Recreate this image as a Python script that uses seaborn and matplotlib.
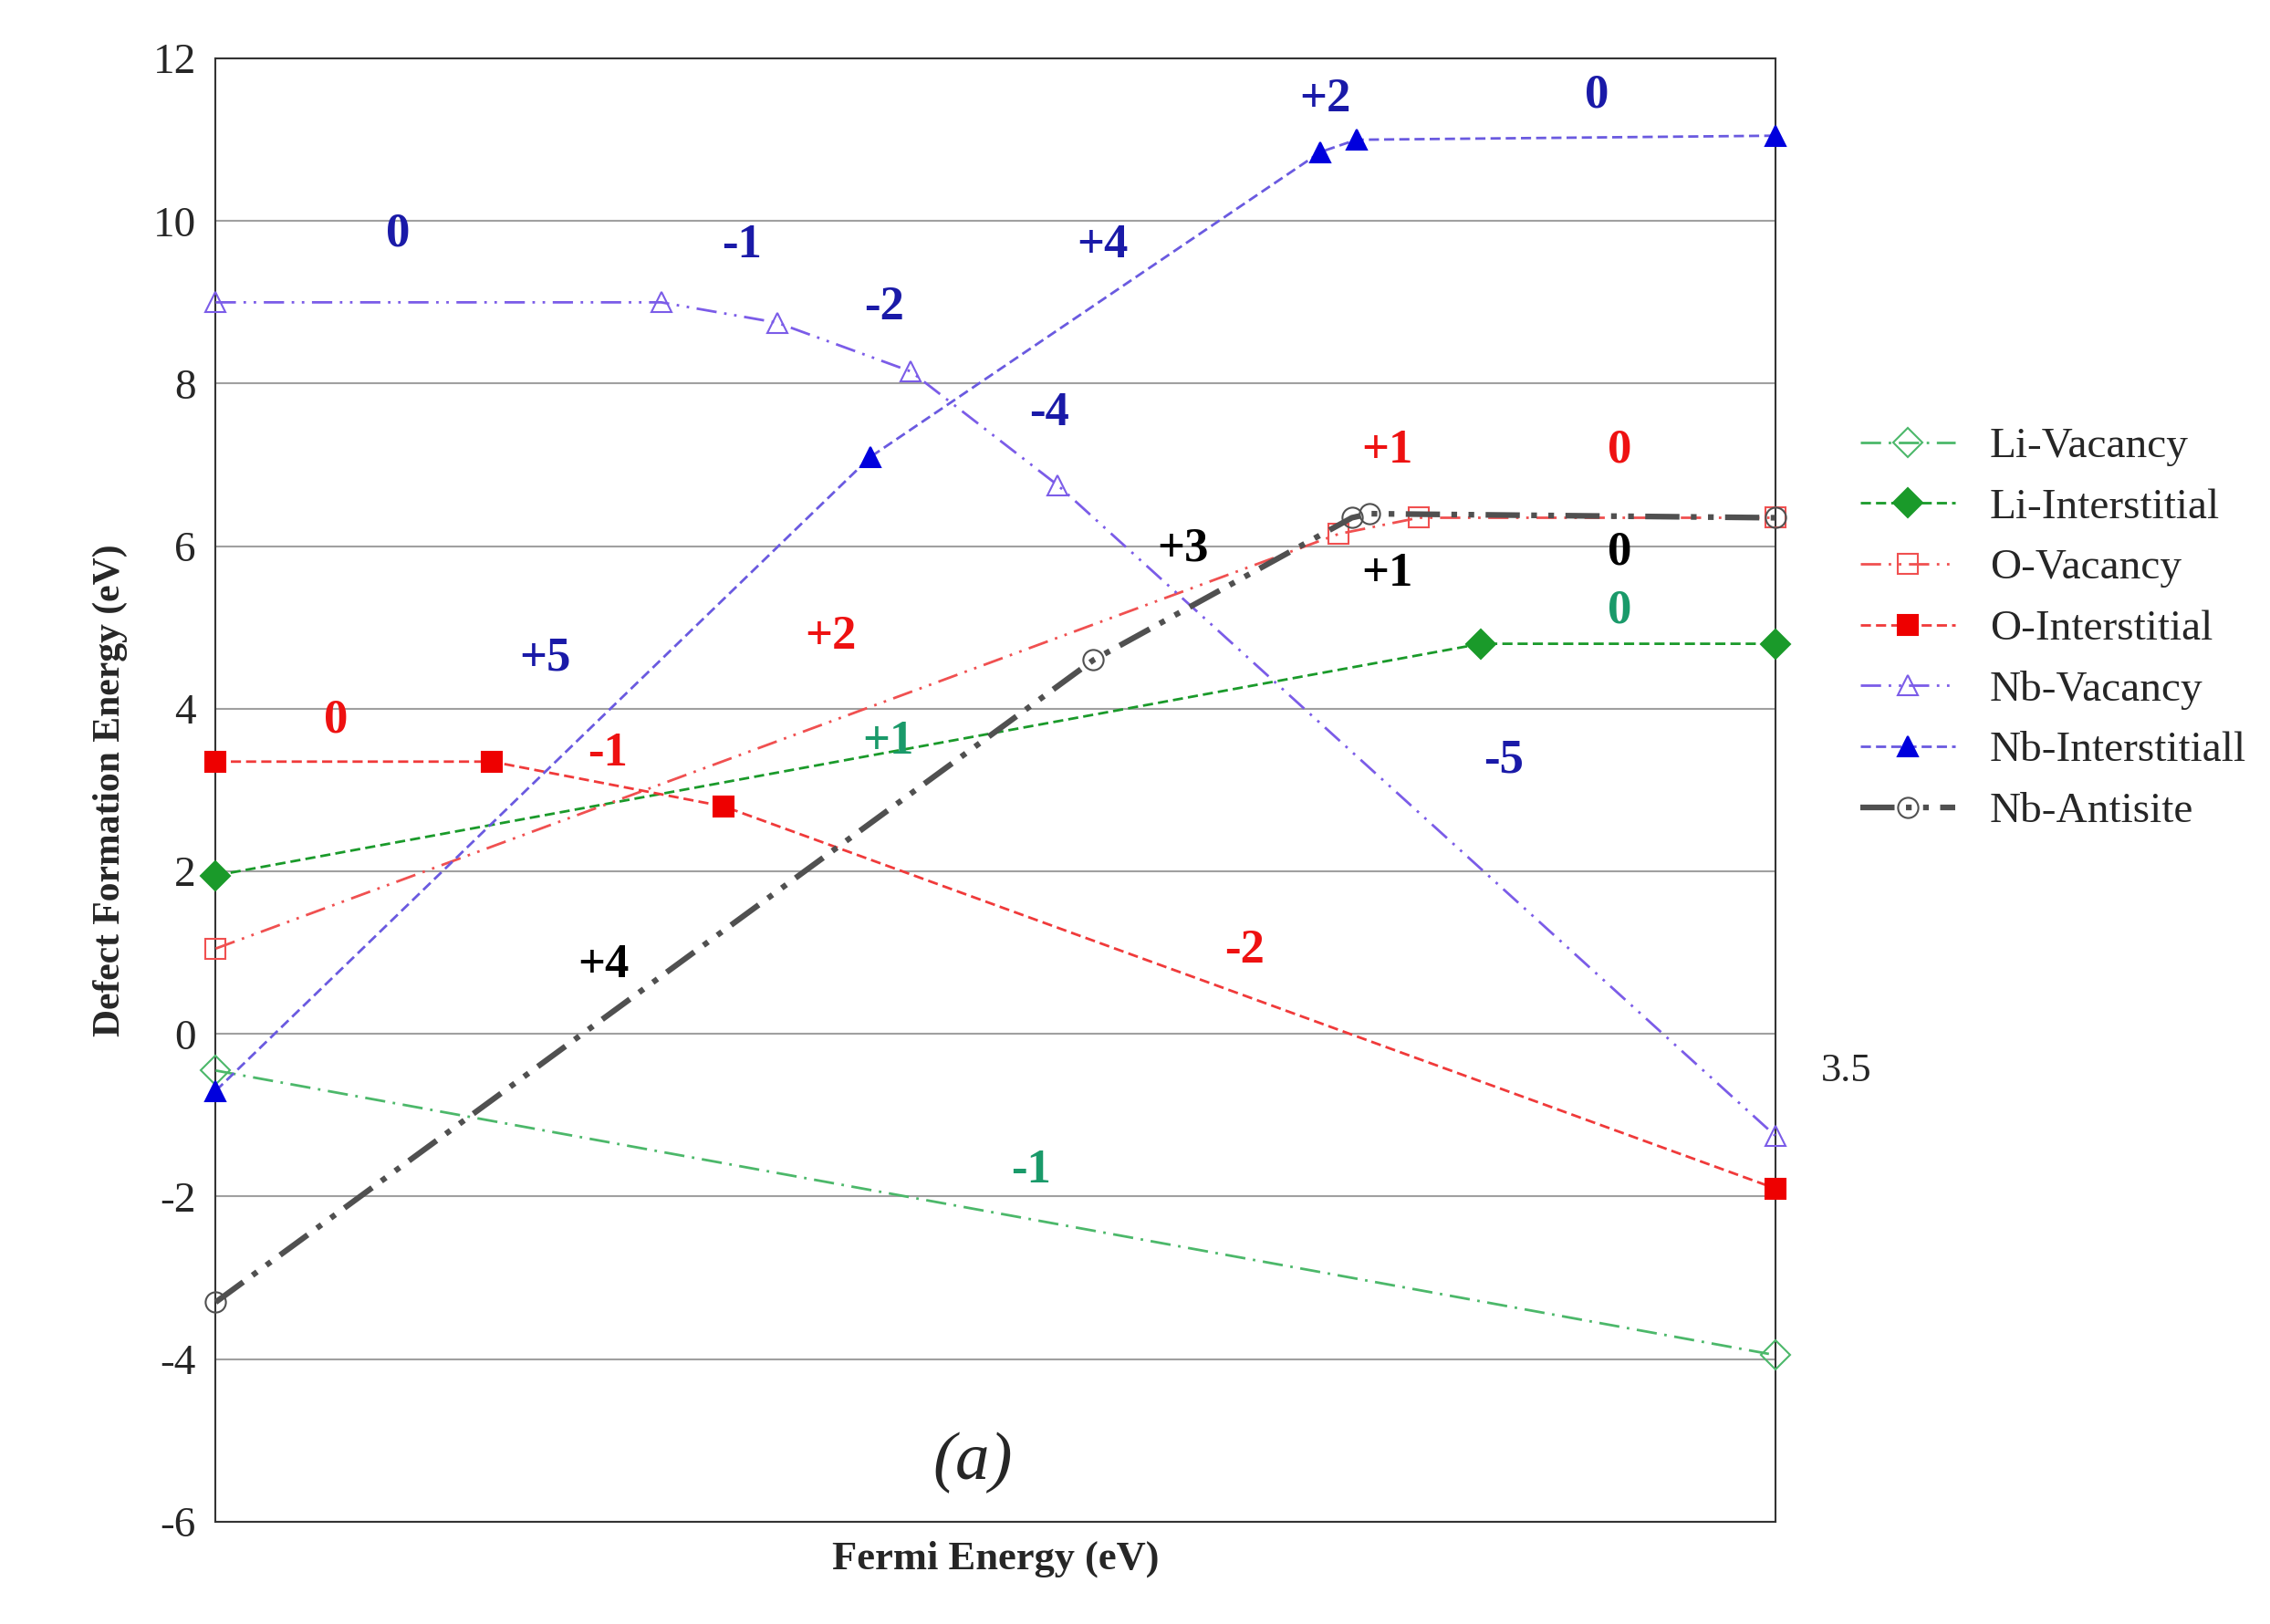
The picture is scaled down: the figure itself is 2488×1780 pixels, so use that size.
import matplotlib
matplotlib.use("Agg")
import matplotlib.pyplot as plt
import seaborn as sns
import pandas as pd

sns.set_style("white")
plt.rcParams['font.family'] = ['Liberation Serif', 'DejaVu Serif']
plt.rcParams['axes.unicode_minus'] = False

li_vac_x = [0, 3.5]; li_vac_y = [-0.45, -3.95]
li_int_x = [0, 2.84, 3.5]; li_int_y = [1.95, 4.8, 4.8]
o_vac_x = [0, 2.52, 2.70, 3.5]; o_vac_y = [1.05, 6.15, 6.35, 6.35]
o_int_x = [0, 0.62, 1.14, 3.5]; o_int_y = [3.35, 3.35, 2.8, -1.9]
nb_vac_x = [0, 1.0, 1.26, 1.56, 1.89, 3.5]; nb_vac_y = [9.0, 9.0, 8.75, 8.15, 6.75, -1.25]
nb_int_x = [0, 1.47, 2.48, 2.56, 3.5]; nb_int_y = [-0.7, 7.1, 10.85, 11.0, 11.05]
nb_anti_x = [0, 1.97, 2.55, 2.59, 3.5]; nb_anti_y = [-3.3, 4.6, 6.35, 6.4, 6.35]

labels_txt = ["0", "-1", "-2", "-4", "-5", "+5", "+4", "+2", "0",
              "0", "-1", "-2", "+2", "+1", "0",
              "+1", "-1", "0",
              "+4", "+3", "+1", "0"]
labels_x = [0.41, 1.18, 1.50, 1.87, 2.89, 0.74, 1.99, 2.49, 3.10,
            0.27, 0.88, 2.31, 1.38, 2.63, 3.15,
            1.51, 1.83, 3.15,
            0.87, 2.17, 2.63, 3.15]
labels_y = [9.84, 9.70, 8.94, 7.64, 3.36, 4.62, 9.70, 11.5, 11.55,
            3.86, 3.45, 1.02, 4.89, 7.18, 7.18,
            3.6, -1.68, 5.2,
            0.84, 5.97, 5.66, 5.92]
labels_c = ["#1a1aa8"] * 9 + ["#ee1111"] * 6 + ["#1a9a6a"] * 3 + ["black"] * 4

fig = plt.figure(figsize=(24.88, 17.8), dpi=100)
ax = fig.add_axes([0.095, 0.063, 0.687, 0.901])

series = [
    ("Li-Vacancy", li_vac_x, li_vac_y, "#4cb86a", (0, (8, 3, 1, 3)), "D", "none", 2),
    ("Li-Interstitial", li_int_x, li_int_y, "#1a9a2a", (0, (4, 2)), "D", "#1a9a2a", 2),
    ("O-Vacancy", o_vac_x, o_vac_y, "#f05050", (0, (8, 3, 1, 3, 1, 3)), "s", "none", 2),
    ("O-Interstitial", o_int_x, o_int_y, "#f03a3a", (0, (4, 2)), "s", "#ee0000", 2),
    ("Nb-Vacancy", nb_vac_x, nb_vac_y, "#7b5ce8", (0, (8, 3, 1, 3, 1, 3)), "^", "none", 2),
    ("Nb-Interstitiall", nb_int_x, nb_int_y, "#6a5ae0", (0, (4, 2)), "^", "#0000dd", 2),
    ("Nb-Antisite", nb_anti_x, nb_anti_y, "#505050", (0, (6, 2, 1, 2, 1, 2)), "o", "none", 4.5),
]
for name, xs, ys, col, ls, mk, mfc, lw in series:
    df = pd.DataFrame({"x": xs, "y": ys})
    mec = col if mfc == "none" else mfc
    sns.lineplot(data=df, x="x", y="y", ax=ax, sort=False, color=col, label=name,
                 linewidth=lw, linestyle=ls, marker=mk, markersize=16,
                 markerfacecolor=mfc, markeredgecolor=mec, markeredgewidth=1.5,
                 clip_on=False, zorder=3)

for t, x, y, c in zip(labels_txt, labels_x, labels_y, labels_c):
    ax.text(x, y, t, color=c, fontsize=38, fontweight="bold", ha="center", va="center")

ax.text(1.70, -5.28, "(a)", fontsize=54, style="italic", ha="center", va="center")
ax.text(3.66, -0.46, "3.5", fontsize=32, ha="center", va="center")

ax.set_xlim(0, 3.5)
ax.set_ylim(-6, 12)
ax.set_yticks(range(-6, 13, 2))
ax.set_xticks([])
ax.yaxis.grid(True, color="#a0a0a0", linewidth=1.5)
ax.tick_params(axis="y", labelsize=34, pad=12)
ax.set_xlabel("Fermi Energy (eV)", fontsize=32, fontweight="bold", labelpad=15)
ax.set_ylabel("Defect Formation Energy (eV)", fontsize=30, fontweight="bold", labelpad=20)
for s in ax.spines.values():
    s.set_color("#333333"); s.set_linewidth(1.5)

leg = ax.legend(loc="center left", bbox_to_anchor=(1.03, 0.61), frameon=False,
                fontsize=34, handlelength=2.2, labelspacing=0.5)
fig.savefig("out.png", dpi=100)
